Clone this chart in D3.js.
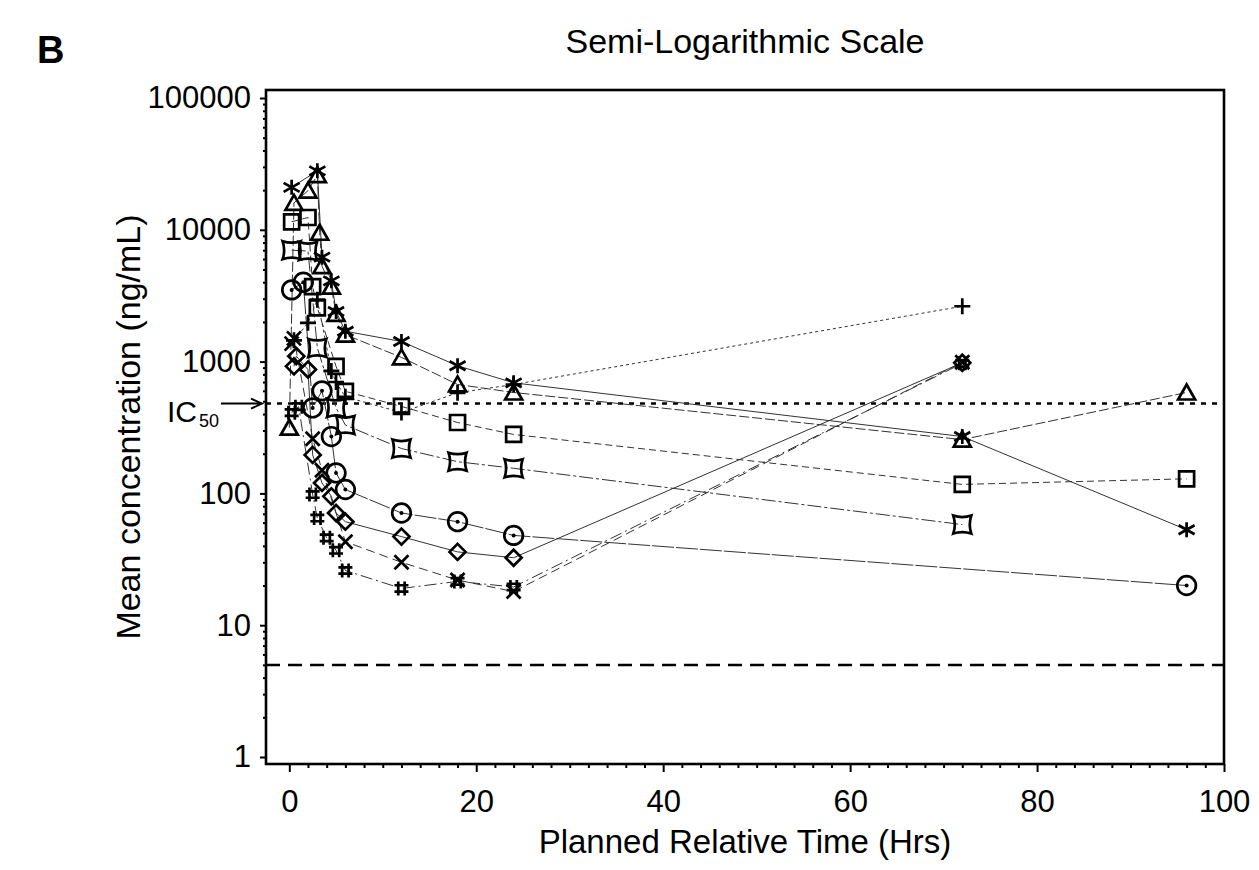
<!DOCTYPE html>
<html>
<head>
<meta charset="utf-8">
<script src="https://cdn.jsdelivr.net/npm/d3@7"></script>
<style>
    body { margin: 0; background: #fff; }
    svg text { font-family: "Liberation Sans", Arial, sans-serif; fill: #000; }
</style>
</head>
<body>
<svg id="chart" width="1259" height="870"></svg>
<script>
// mean concentration (ng/mL) per cohort
const starHrs = [0.25, 3, 3.5, 4.5, 5, 6, 12, 18, 24, 72, 96];
const starConc = [21000, 28000, 6200, 4100, 2400, 1700, 1420, 930, 690, 270, 53];

const triangleHrs = [0, 0.5, 2, 3, 3.25, 3.5, 4.5, 5, 6, 12, 18, 24, 72, 96];
const triangleConc = [315, 16000, 19800, 26000, 9500, 5300, 3700, 2300, 1600, 1076, 671, 583, 256, 583];

const plusHrs = [0.5, 2, 3, 4.5, 5, 6, 12, 18, 24, 72];
const plusConc = [1450, 1970, 2950, 850, 700, 540, 411, 580, 670, 2630];

const squareHrs = [0.25, 2, 2.5, 3, 5, 6, 12, 18, 24, 72, 96];
const squareConc = [11500, 12400, 3700, 2560, 920, 595, 457, 345, 280, 117, 129];

const concaveHrs = [0.25, 2, 3, 5, 6, 12, 18, 24, 72];
const concaveConc = [7000, 6900, 1270, 445, 330, 219, 174, 155, 58];

const circleHrs = [0.25, 1.5, 2.5, 3.5, 4.5, 5, 6, 12, 18, 24, 96];
const circleConc = [3500, 4000, 445, 600, 270, 143, 107, 71, 61, 48, 20];

const diamondHrs = [0.5, 0.75, 2, 2.5, 3.5, 4.5, 5, 6, 12, 18, 24, 72];
const diamondConc = [920, 1100, 870, 196, 120, 95, 71, 61, 47, 36, 32.5, 980];

const crossHrs = [0.25, 0.5, 2.5, 3.5, 6, 12, 18, 24, 72];
const crossConc = [1370, 1500, 260, 150, 43, 30, 22, 18, 990];

const hashHrs = [0.25, 1, 2.5, 3, 4, 5, 6, 12, 18, 24, 72];
const hashConc = [410, 455, 98, 65, 46, 37, 26, 19, 21.5, 19.5, 970];

// reference lines
const ic50 = 480;
const lloq = 5;

// axis ticks
const xTicks = [0, 20, 40, 60, 80, 100];
const yTicks = [1, 10, 100, 1000, 10000, 100000];

// table of series (shape + line style per cohort)
const series = [
    { hrs: starHrs, conc: starConc, shape: 'star', dash: null },
    { hrs: triangleHrs, conc: triangleConc, shape: 'triangle', dash: '10,3' },
    { hrs: plusHrs, conc: plusConc, shape: 'plus', dash: '3,3' },
    { hrs: squareHrs, conc: squareConc, shape: 'square', dash: '7,4' },
    { hrs: concaveHrs, conc: concaveConc, shape: 'concave', dash: '14,3,3,3' },
    { hrs: circleHrs, conc: circleConc, shape: 'circle', dash: '22,2' },
    { hrs: diamondHrs, conc: diamondConc, shape: 'diamond', dash: null },
    { hrs: crossHrs, conc: crossConc, shape: 'cross', dash: '9,5' },
    { hrs: hashHrs, conc: hashConc, shape: 'hash', dash: '12,4,2,4' }
];

// marker outlines, centred on the point
const shapePaths = {
    star: 'M0,-7.5V7.5M-8,-4.5L8,4.5M-8,4.5L8,-4.5',
    triangle: 'M0,-8L8.5,7L-8.5,7Z',
    plus: 'M-8,0H8M0,-8V8',
    square: 'M-7.5,-7.5H7.5V7.5H-7.5Z',
    concave: 'M-9,-9Q0,-6 9,-9Q6,0 9,9Q0,6 -9,9Q-6,0 -9,-9Z',
    circle: 'M9.3,0A9.3,9.3 0 1,1 -9.3,0A9.3,9.3 0 1,1 9.3,0Z',
    diamond: 'M0,-8L8,0L0,8L-8,0Z',
    cross: 'M-7,-7L7,7M-7,7L7,-7',
    hash: 'M-3.2,-7V7M3.2,-7V7M-7,-3.2H7M-7,3.2H7'
};

let svg = d3.select('#chart');

// frame bounds
const frameLeft = 266, frameRight = 1224, frameTop = 90, frameBottom = 764;

let x = d3.scaleLinear().domain([0, 100]).range([289.3, frameRight]);
let y = d3.scaleLog().domain([1, 100000]).range([757, 98]);

// x axis: major + minor ticks
let xMajor = svg.append('g')
    .attr('transform', 'translate(0,' + frameBottom + ')')
    .call(d3.axisBottom(x).tickValues(xTicks).tickSize(8).tickPadding(18));
let xMinor = svg.append('g')
    .attr('transform', 'translate(0,' + frameBottom + ')')
    .call(d3.axisBottom(x).tickValues(d3.range(0, 101, 2).filter(d => d % 20 != 0)).tickSize(4).tickFormat(''));

// y axis: major + minor ticks
let yMinorValues = [];
for (let k = 0; k < 5; k++) {
    for (let m = 2; m <= 9; m++) yMinorValues.push(m * Math.pow(10, k));
}
let yMajor = svg.append('g')
    .attr('transform', 'translate(' + frameLeft + ',0)')
    .call(d3.axisLeft(y).tickValues(yTicks).tickFormat(d3.format('d')).tickSize(6).tickPadding(9));
let yMinor = svg.append('g')
    .attr('transform', 'translate(' + frameLeft + ',0)')
    .call(d3.axisLeft(y).tickValues(yMinorValues).tickSize(3).tickFormat(''));

[xMajor, xMinor, yMajor, yMinor].forEach(g => {
    g.select('.domain').remove();
    g.selectAll('.tick line').attr('stroke', '#000').attr('stroke-width', 2);
    g.selectAll('.tick text').style('font-size', '31px');
});

// frame
svg.append('rect')
    .attr('x', frameLeft).attr('y', frameTop)
    .attr('width', frameRight - frameLeft).attr('height', frameBottom - frameTop)
    .attr('fill', 'none').attr('stroke', '#000').attr('stroke-width', 2.6);

// IC50 (dotted) and LLOQ (dashed) lines
svg.append('line')
    .attr('x1', frameLeft).attr('x2', frameRight)
    .attr('y1', y(ic50)).attr('y2', y(ic50))
    .attr('stroke', '#000').attr('stroke-width', 2.5).attr('stroke-dasharray', '5,6');
svg.append('line')
    .attr('x1', frameLeft).attr('x2', frameRight)
    .attr('y1', y(lloq)).attr('y2', y(lloq))
    .attr('stroke', '#000').attr('stroke-width', 2.5).attr('stroke-dasharray', '14,8');

// IC50 label with arrow
let icY = y(ic50);
svg.append('text').attr('x', 167).attr('y', icY + 18).style('font-size', '30px').text('IC');
svg.append('text').attr('x', 199).attr('y', icY + 23).style('font-size', '18px').text('50');
svg.append('path')
    .attr('d', 'M221,' + icY + 'H262M251,' + (icY - 5) + 'L262,' + icY + 'L251,' + (icY + 5))
    .attr('fill', 'none').attr('stroke', '#000').attr('stroke-width', 2);

// series lines
let line = d3.line().x(d => x(d[0])).y(d => y(d[1]));
series.forEach(s => {
    let pts = d3.zip(s.hrs, s.conc);
    svg.append('path')
        .attr('d', line(pts))
        .attr('fill', 'none')
        .attr('stroke', '#333')
        .attr('stroke-width', 1)
        .attr('stroke-dasharray', s.dash);
});

// series markers
series.forEach(s => {
    let pts = d3.zip(s.hrs, s.conc);
    let g = svg.append('g').attr('class', 'markers ' + s.shape);
    g.selectAll('path')
        .data(pts)
        .enter()
        .append('path')
        .attr('transform', d => 'translate(' + x(d[0]) + ',' + y(d[1]) + ')')
        .attr('d', shapePaths[s.shape])
        .attr('fill', 'none')
        .attr('stroke', '#000')
        .attr('stroke-width', 2.7);
    if (s.shape == 'circle') {
        g.selectAll('circle')
            .data(pts)
            .enter()
            .append('circle')
            .attr('cx', d => x(d[0]))
            .attr('cy', d => y(d[1]))
            .attr('r', 2)
            .attr('fill', '#000');
    }
});

// titles
svg.append('text')
    .attr('x', 37).attr('y', 63)
    .style('font-size', '38px').style('font-weight', 'bold')
    .text('B');
svg.append('text')
    .attr('x', (frameLeft + frameRight) / 2).attr('y', 53)
    .attr('text-anchor', 'middle')
    .style('font-size', '34px')
    .text('Semi-Logarithmic Scale');
svg.append('text')
    .attr('x', (frameLeft + frameRight) / 2).attr('y', 853)
    .attr('text-anchor', 'middle')
    .style('font-size', '33px')
    .text('Planned Relative Time (Hrs)');
svg.append('text')
    .attr('transform', 'translate(140,' + (frameTop + frameBottom) / 2 + ') rotate(-90)')
    .attr('text-anchor', 'middle')
    .style('font-size', '34px')
    .text('Mean concentration (ng/mL)');
</script>
</body>
</html>
